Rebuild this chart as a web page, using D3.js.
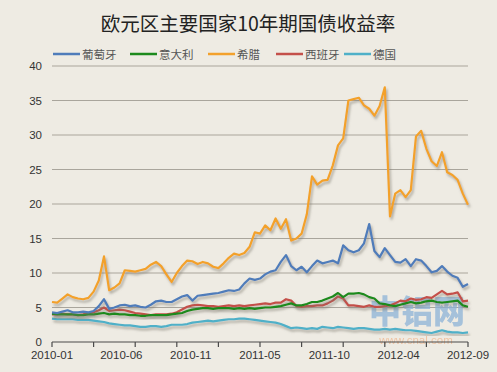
<!DOCTYPE html>
<html><head><meta charset="utf-8">
<script src="https://cdn.jsdelivr.net/npm/d3@7"></script>
<style>
html,body{margin:0;padding:0;background:#eeebe3;}
svg{display:block;}
</style></head>
<body>
<svg id="chart" width="497" height="372"></svg>
<script>
const title = "欧元区主要国家10年期国债收益率";
const seriesNames = ["葡萄牙","意大利","希腊","西班牙","德国"];
const seriesColors = ["#4f7cba","#1d8a1d","#f3a12c","#c4504a","#4fb0c8"];
const xTickLabels = ["2010-01","2010-06","2010-11","2011-05","2011-10","2012-04","2012-09"];
const yTicks = [0,5,10,15,20,25,30,35,40];

// samples every ~0.4 month from 2010-01 to 2012-09
const portugal = [4.3,4.2,4.4,4.6,4.3,4.3,4.4,4.3,4.5,5.2,6.2,4.8,5.0,5.3,5.4,5.2,5.3,5.1,5.0,5.4,
 5.9,6.0,5.8,5.8,6.2,6.6,6.8,6.0,6.7,6.8,6.9,7.0,7.1,7.3,7.5,7.4,7.6,8.5,9.2,9.0,
 9.2,9.8,10.2,10.4,11.6,12.6,11.0,10.4,10.9,10.1,11.0,11.8,11.4,11.6,11.8,11.4,14.0,13.3,13.0,13.3,
 14.3,17.1,13.2,12.3,13.6,12.6,11.6,11.5,12.0,11.0,12.0,11.8,11.0,10.1,10.3,11.0,10.2,9.6,9.3,8.0,8.4];
const italy = [4.1,4.0,4.0,4.0,4.0,3.9,3.9,4.0,4.0,4.1,4.2,4.0,4.1,4.0,4.0,3.9,3.9,3.8,3.8,3.9,
 3.9,3.9,3.9,4.0,4.1,4.2,4.5,4.7,4.8,4.9,4.9,4.8,4.9,4.9,4.9,4.8,4.9,4.8,4.9,4.8,
 4.9,5.0,5.0,5.1,5.2,5.4,5.6,5.3,5.3,5.5,5.8,5.8,6.0,6.3,6.6,7.1,6.5,7.0,7.0,7.1,
 6.9,6.5,6.3,5.6,5.5,5.3,5.2,5.4,5.6,5.8,5.6,5.7,5.9,6.0,5.8,5.7,5.8,5.9,6.0,5.3,5.1];
const greece = [5.8,5.7,6.3,6.9,6.5,6.3,6.2,6.4,7.3,8.9,12.4,7.5,7.9,8.5,10.4,10.3,10.2,10.4,10.6,11.2,
 11.6,11.0,9.8,8.7,10.0,11.0,11.8,11.7,11.3,11.6,11.4,10.9,10.7,11.4,12.2,12.8,12.6,12.9,13.8,15.9,
 15.7,16.9,16.2,17.9,16.4,17.8,14.7,15.0,15.7,18.5,24.0,22.8,23.4,23.5,25.6,28.5,29.5,35.0,35.2,35.4,
 34.3,33.8,32.8,34.2,36.9,18.2,21.5,22.0,21.0,22.0,29.8,30.6,28.0,26.2,25.5,27.5,24.6,24.2,23.5,21.5,19.9];
const spain = [4.0,4.0,4.1,4.0,4.0,3.9,4.0,4.2,4.3,4.6,5.0,4.5,4.6,4.7,4.6,4.4,4.2,4.1,4.0,3.9,
 4.0,4.0,4.0,4.1,4.3,4.7,5.1,5.3,5.4,5.3,5.2,5.2,5.1,5.2,5.3,5.2,5.3,5.2,5.3,5.4,
 5.5,5.6,5.5,5.7,5.7,6.2,6.0,5.2,5.1,5.2,5.2,5.3,5.3,5.6,6.0,6.6,6.3,5.3,5.3,5.2,
 5.1,5.3,5.1,5.1,5.2,5.3,5.6,6.0,5.9,6.3,6.1,6.2,6.5,6.4,6.9,7.4,6.9,7.0,7.2,5.9,6.0];
const germany = [3.4,3.3,3.3,3.3,3.3,3.2,3.2,3.2,3.1,3.0,2.9,2.7,2.6,2.5,2.4,2.4,2.3,2.2,2.2,2.3,
 2.3,2.2,2.3,2.5,2.5,2.5,2.6,2.8,2.9,3.0,3.1,3.0,3.1,3.2,3.3,3.3,3.4,3.4,3.3,3.2,
 3.1,3.0,2.9,2.8,2.6,2.3,2.0,2.1,2.0,1.9,2.0,1.9,2.2,2.1,2.0,2.2,2.1,2.0,1.9,2.0,
 2.0,1.9,1.8,1.8,1.9,1.8,1.9,1.8,1.7,1.7,1.6,1.5,1.4,1.3,1.5,1.7,1.5,1.4,1.4,1.3,1.4];

const allSeries = [portugal, italy, greece, spain, germany];
const drawOrder = [4,3,1,0,2];

const svg = d3.select("#chart");
const pLeft = 52, pRight = 468, pTop = 66, pBottom = 342;
const nPts = portugal.length;
const x = d3.scaleLinear().domain([0, nPts-1]).range([pLeft, pRight]);
const y = d3.scaleLinear().domain([0, 40]).range([pBottom, pTop]);

const defs = svg.append("defs");
const f = defs.append("filter").attr("id","sh").attr("x","-5%").attr("y","-5%").attr("width","115%").attr("height","120%");
f.append("feDropShadow").attr("dx",1.5).attr("dy",2.5).attr("stdDeviation",1.2)
 .attr("flood-color","#7a756a").attr("flood-opacity",0.55);

// title
svg.append("text").attr("x",248).attr("y",31).attr("text-anchor","middle")
 .attr("font-family","'Noto Sans CJK SC', sans-serif").attr("font-size",19.5)
 .attr("fill","#222").text(title);

// legend
const legX = [53,130,208,276,344];
seriesNames.forEach((n,i)=>{
  const g = svg.append("g");
  g.append("line").attr("x1",legX[i]).attr("x2",legX[i]+27).attr("y1",54).attr("y2",54)
   .attr("stroke",seriesColors[i]).attr("stroke-width",2.5);
  g.append("text").attr("x",legX[i]+29).attr("y",58.5)
   .attr("font-family","'Noto Sans CJK SC', sans-serif").attr("font-size",11.5)
   .attr("fill","#555").text(n);
});

// grid
svg.append("g").selectAll("line").data(yTicks.filter(d=>d>0)).join("line")
 .attr("x1",pLeft).attr("x2",pRight).attr("y1",d=>y(d)).attr("y2",d=>y(d))
 .attr("stroke","#a9a59c").attr("stroke-width",1.2);

// y labels
svg.append("g").selectAll("text").data(yTicks).join("text")
 .attr("x",42).attr("y",d=>y(d)+4).attr("text-anchor","end")
 .attr("font-family","'Liberation Sans', Arial, sans-serif").attr("font-size",11.5)
 .attr("fill","#333").text(d=>d);

// watermark
svg.append("text").attr("x",417).attr("y",323).attr("text-anchor","middle")
 .attr("font-family","'Noto Sans CJK SC', sans-serif").attr("font-weight",900).attr("font-size",32)
 .attr("fill","#8db3d8").attr("opacity",0.75).text("中铝网");
svg.append("text").attr("x",416).attr("y",344).attr("text-anchor","middle")
 .attr("font-family","'Liberation Sans', Arial, sans-serif").attr("font-size",11.5)
 .attr("fill","#f0a878").attr("opacity",0.6).text("www.cnal.com");

// lines
const lineGen = d3.line().x((d,i)=>x(i)).y(d=>y(d)).curve(d3.curveLinear);
drawOrder.forEach(si=>{
  svg.append("path").datum(allSeries[si]).attr("d",lineGen)
   .attr("fill","none").attr("stroke",seriesColors[si]).attr("stroke-width",2.2)
   .attr("stroke-linejoin","round").attr("filter","url(#sh)");
});

// x axis
const tickCount = 10;
const tickIdx = d3.range(tickCount+1).map(k=>k*(nPts-1)/tickCount);
const ax = svg.append("g");
ax.append("line").attr("x1",pLeft).attr("x2",pRight).attr("y1",pBottom).attr("y2",pBottom)
 .attr("stroke","#4a4a4a").attr("stroke-width",1.2);
ax.selectAll(".tk").data(tickIdx).join("line").attr("class","tk")
 .attr("x1",d=>x(d)).attr("x2",d=>x(d)).attr("y1",pBottom).attr("y2",pBottom+5)
 .attr("stroke","#4a4a4a").attr("stroke-width",1.2);
const labIdx = xTickLabels.map((l,k)=>k*(nPts-1)/(xTickLabels.length-1));
ax.selectAll(".lb").data(xTickLabels).join("text").attr("class","lb")
 .attr("x",(d,k)=>x(labIdx[k])).attr("y",359).attr("text-anchor","middle")
 .attr("font-family","'Liberation Sans', Arial, sans-serif").attr("font-size",11.5)
 .attr("fill","#333").text(d=>d);
</script>
</body></html>
